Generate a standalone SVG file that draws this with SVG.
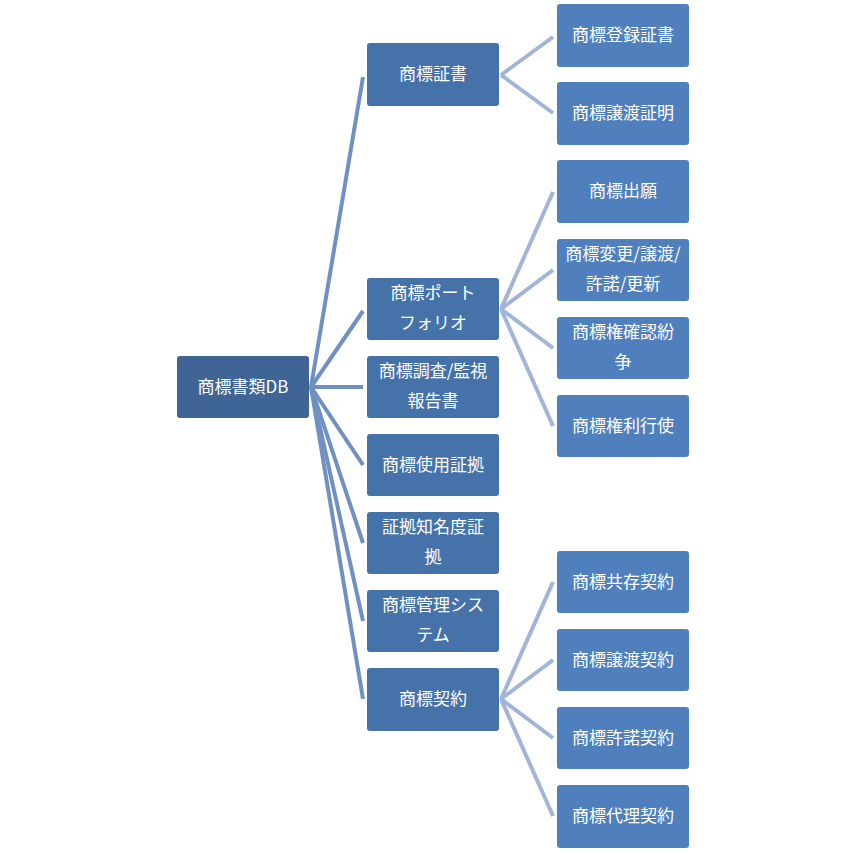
<svg xmlns="http://www.w3.org/2000/svg" width="866" height="853" viewBox="0 0 866 853">
<style>
rect{rx:3}
.r{fill:#3e6596}.a{fill:#4672aa}.b{fill:#4f80bd}
text{font-family:"Noto Sans CJK JP","Noto Sans",sans-serif;font-size:17px;fill:#fff;text-anchor:middle}
.c1 line{stroke:#7090c2;stroke-width:4}
.c2 line{stroke:#a3b5d6;stroke-width:4}
</style>
<rect width="866" height="853" fill="#fff" style="rx:0"/>
<g id="connectors">
<g class="c1">
<line x1="311" y1="387" x2="363" y2="77"/>
<line x1="311" y1="387" x2="363" y2="311"/>
<line x1="311" y1="387" x2="363" y2="387"/>
<line x1="311" y1="387" x2="363" y2="465"/>
<line x1="311" y1="387" x2="363" y2="543"/>
<line x1="311" y1="387" x2="363" y2="621"/>
<line x1="311" y1="387" x2="363" y2="699"/>
</g>
<g class="c2">
<line x1="501" y1="75" x2="553" y2="37"/>
<line x1="501" y1="75" x2="553" y2="113"/>
<line x1="501" y1="309" x2="553" y2="192"/>
<line x1="501" y1="309" x2="553" y2="270"/>
<line x1="501" y1="309" x2="553" y2="348"/>
<line x1="501" y1="309" x2="553" y2="426"/>
<line x1="501" y1="699" x2="553" y2="582"/>
<line x1="501" y1="699" x2="553" y2="660"/>
<line x1="501" y1="699" x2="553" y2="738"/>
<line x1="501" y1="699" x2="553" y2="816"/>
</g>
</g>
<g id="root"><rect class="r" x="177" y="356" width="132" height="62"/><text x="243" y="393">商標書類DB</text></g>
<g id="n1"><rect class="a" x="367" y="43" width="132" height="63"/><text x="433" y="80">商標証書</text></g>
<g id="n2"><rect class="a" x="367" y="278" width="132" height="62"/><text x="433" y="299">商標ポート</text><text x="433" y="329">フォリオ</text></g>
<g id="n3"><rect class="a" x="367" y="356" width="132" height="62"/><text x="433" y="377">商標調査/監視</text><text x="433" y="407">報告書</text></g>
<g id="n4"><rect class="a" x="367" y="434" width="132" height="62"/><text x="433" y="471">商標使用証拠</text></g>
<g id="n5"><rect class="a" x="367" y="512" width="132" height="62"/><text x="433" y="533">証拠知名度証</text><text x="433" y="563">拠</text></g>
<g id="n6"><rect class="a" x="367" y="590" width="132" height="62"/><text x="433" y="611">商標管理シス</text><text x="433" y="641">テム</text></g>
<g id="n7"><rect class="a" x="367" y="668" width="132" height="63"/><text x="433" y="705">商標契約</text></g>
<g id="m1"><rect class="b" x="557" y="4" width="132" height="63"/><text x="623" y="41">商標登録証書</text></g>
<g id="m2"><rect class="b" x="557" y="82" width="132" height="63"/><text x="623" y="119">商標譲渡証明</text></g>
<g id="m3"><rect class="b" x="557" y="160" width="132" height="63"/><text x="623" y="197">商標出願</text></g>
<g id="m4"><rect class="b" x="557" y="239" width="132" height="62"/><text x="623" y="260">商標変更/譲渡/</text><text x="623" y="290">許諾/更新</text></g>
<g id="m5"><rect class="b" x="557" y="317" width="132" height="62"/><text x="623" y="338">商標権確認紛</text><text x="623" y="368">争</text></g>
<g id="m6"><rect class="b" x="557" y="395" width="132" height="62"/><text x="623" y="432">商標権利行使</text></g>
<g id="m7"><rect class="b" x="557" y="551" width="132" height="62"/><text x="623" y="588">商標共存契約</text></g>
<g id="m8"><rect class="b" x="557" y="629" width="132" height="62"/><text x="623" y="666">商標譲渡契約</text></g>
<g id="m9"><rect class="b" x="557" y="707" width="132" height="62"/><text x="623" y="744">商標許諾契約</text></g>
<g id="m10"><rect class="b" x="557" y="785" width="132" height="63"/><text x="623" y="822">商標代理契約</text></g>
</svg>
